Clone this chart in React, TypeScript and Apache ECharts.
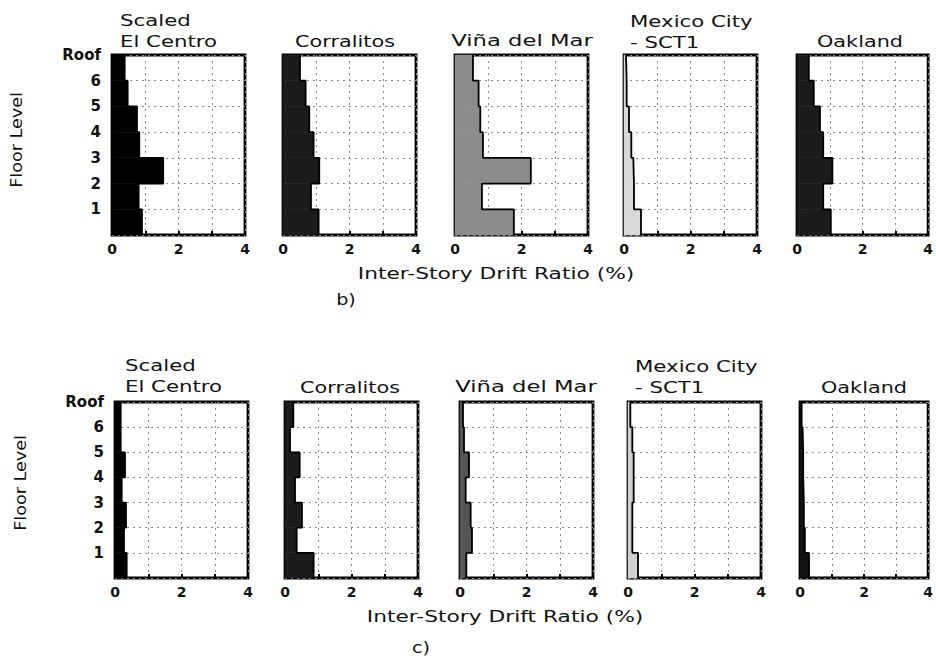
import { useEffect, useRef } from 'react';
import * as echarts from 'echarts';

// Floor-level tick labels (0 = ground, 7 = roof)
const floorLabels = ['', '1', '2', '3', '4', '5', '6', 'Roof'];
// Inter-story drift ratio (%) per story: story 1 (ground→1) ... story 7 (6→roof)
// Row b)
const bElCentro = [0.9, 0.8, 1.54, 0.82, 0.75, 0.47, 0.38];
const bCorralitos = [1.07, 0.84, 1.09, 0.92, 0.79, 0.68, 0.51];
const bVina = [1.77, 0.81, 2.28, 0.84, 0.76, 0.71, 0.54];
const bMexico = [0.51, 0.3, 0.28, 0.22, 0.15, 0.08, 0.06];
const bOakland = [1.03, 0.8, 1.08, 0.8, 0.7, 0.51, 0.36];
// Row c)
const cElCentro = [0.35, 0.27, 0.33, 0.2, 0.3, 0.17, 0.17];
const cCorralitos = [0.86, 0.35, 0.51, 0.3, 0.44, 0.15, 0.25];
const cVina = [0.19, 0.36, 0.32, 0.17, 0.27, 0.12, 0.09];
const cMexico = [0.3, 0.13, 0.13, 0.17, 0.17, 0.13, 0.07];
const cOakland = [0.28, 0.15, 0.12, 0.1, 0.1, 0.08, 0.05];

const stationTitles = ['Scaled\nEl Centro', 'Corralitos', 'Viña del Mar', 'Mexico City\n- SCT1', 'Oakland'];
const xTitle = 'Inter-Story Drift Ratio (%)';
const yTitle = 'Floor Level';

const FONT = 'DejaVu Sans';

const rows = [
  {
    data: [bElCentro, bCorralitos, bVina, bMexico, bOakland],
    fills: ['#000000', '#1c1c1c', '#8c8c8c', '#d9d9d9', '#1c1c1c'],
    lefts: [112, 283, 455, 624, 797],
    top: 55,
    height: 180,
  },
  {
    data: [cElCentro, cCorralitos, cVina, cMexico, cOakland],
    fills: ['#000000', '#1c1c1c', '#555555', '#d0d0d0', '#111111'],
    lefts: [115, 285, 460, 628, 800],
    top: 402,
    height: 176,
  },
];

function buildOption() {
  const grid: any[] = [];
  const xAxis: any[] = [];
  const yAxis: any[] = [];
  const series: any[] = [];
  const W = 133;
  rows.forEach((row, r) => {
    row.data.forEach((drift, i) => {
      const idx = r * 5 + i;
      grid.push({
        left: row.lefts[i],
        top: row.top,
        width: W,
        height: row.height,
        show: true,
        borderColor: '#000',
        borderWidth: 2.8,
        backgroundColor: 'transparent',
      });
      xAxis.push({
        gridIndex: idx,
        type: 'value',
        min: 0,
        max: 4,
        interval: 1,
        axisLine: { show: false },
        axisTick: { show: true, inside: true, length: 4, lineStyle: { color: '#000', width: 2 } },
        axisLabel: {
          formatter: (v: number) => (v % 2 === 0 ? String(v) : ''),
          fontSize: 14,
          fontWeight: 'bold',
          color: '#111',
          margin: 7,
          fontFamily: FONT,
          showMinLabel: true,
          showMaxLabel: true,
        },
        splitLine: { show: true, lineStyle: { type: [2, 4], color: '#8a8a8a', width: 1 } },
      });
      yAxis.push({
        gridIndex: idx,
        type: 'value',
        min: 0,
        max: 7,
        interval: 1,
        axisLine: { show: false },
        axisTick: { show: false },
        axisLabel: {
          show: i === 0,
          formatter: (v: number) => floorLabels[v] ?? '',
          fontSize: 15,
          fontWeight: 'bold',
          color: '#111',
          margin: 11,
          fontFamily: FONT,
          showMinLabel: true,
          showMaxLabel: true,
        },
        splitLine: { show: true, lineStyle: { type: [2, 4], color: '#8a8a8a', width: 1 } },
      });
      const fill = row.fills[i];
      series.push({
        type: 'custom',
        xAxisIndex: idx,
        yAxisIndex: idx,
        data: drift.map((v, k) => [k, k + 1, v]),
        encode: { x: 2, y: [0, 1] },
        renderItem: (_p: any, api: any) => {
          const lo = api.value(0);
          const hi = api.value(1);
          const v = api.value(2);
          const p0 = api.coord([0, hi]);
          const p1 = api.coord([v, lo]);
          return {
            type: 'rect',
            shape: { x: p0[0], y: p0[1], width: p1[0] - p0[0], height: p1[1] - p0[1] },
            style: { fill, stroke: fill, lineWidth: 0.5 },
          };
        },
        z: 2,
      });
      series.push({
        type: 'line',
        xAxisIndex: idx,
        yAxisIndex: idx,
        data: drift.flatMap((v, k) => [[v, k], [v, k + 1]]),
        symbol: 'none',
        lineStyle: { color: '#000', width: 1.8 },
        z: 3,
      });
    });
  });

  const txt = (text: string, x: number, y: number, align: string, sx: number, size = 16, extra: any = {}) => ({
    type: 'text',
    x,
    y,
    scaleX: sx,
    ...extra,
    style: {
      text,
      fill: '#111',
      font: `${size}px '${FONT}'`,
      align,
      verticalAlign: 'middle',
      lineHeight: 21,
    },
  });

  const graphic: any[] = [
    // Row b titles
    txt(stationTitles[0], 120, 31, 'left', 1.33),
    txt(stationTitles[1], 345, 41, 'center', 1.3),
    txt(stationTitles[2], 522, 41, 'center', 1.42),
    txt(stationTitles[3], 630, 32, 'left', 1.33),
    txt(stationTitles[4], 860, 41, 'center', 1.3),
    // Row c titles
    txt(stationTitles[0], 125, 376, 'left', 1.33),
    txt(stationTitles[1], 350, 387, 'center', 1.3),
    txt(stationTitles[2], 526, 387, 'center', 1.42),
    txt(stationTitles[3], 635, 377, 'left', 1.33),
    txt(stationTitles[4], 864, 387, 'center', 1.3),
    // axis titles
    txt(xTitle, 496, 274, 'center', 1.36),
    txt(xTitle, 505, 617, 'center', 1.36),
    txt(yTitle, 16, 140, 'center', 1.1, 16, { rotation: Math.PI / 2 }),
    txt(yTitle, 20, 483, 'center', 1.1, 16, { rotation: Math.PI / 2 }),
    // panel letters
    txt('b)', 346, 300, 'center', 1.2),
    txt('c)', 421, 648, 'center', 1.2),
  ];

  return {
    animation: false,
    backgroundColor: '#fff',
    grid,
    xAxis,
    yAxis,
    series,
    graphic,
  };
}

export default function App() {
  const ref = useRef<HTMLDivElement>(null);
  useEffect(() => {
    if (!ref.current) return;
    const chart = echarts.init(ref.current, undefined, { renderer: 'svg' });
    chart.setOption(buildOption() as any);
    return () => chart.dispose();
  }, []);
  return (
    <div
      ref={ref}
      style={{ position: 'fixed', left: 0, top: 0, width: 936, height: 662, background: '#fff' }}
    />
  );
}
